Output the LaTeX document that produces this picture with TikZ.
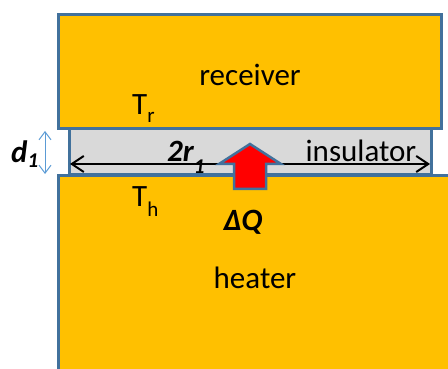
\documentclass[tikz,border=0pt]{standalone}
\usepackage{fontspec}
\setmainfont{Carlito}
\usetikzlibrary{arrows.meta}
\definecolor{gold}{HTML}{FFC000}
\definecolor{edgeblue}{HTML}{41719C}
\definecolor{insul}{HTML}{D9D9D9}
\definecolor{dblue}{HTML}{5B9BD5}
\definecolor{arrowred}{HTML}{FF0000}
\newcommand\sbs[2]{\raisebox{-#1pt}{\fontsize{21}{21}\selectfont #2}}
\begin{document}
\begin{tikzpicture}[x=1pt,y=-1pt,
  block/.style={draw=edgeblue, line width=3pt, fill=gold},
  insbox/.style={draw=edgeblue, line width=3pt, fill=insul},
  lbl/.style={inner sep=0pt, font=\fontsize{31}{37}\selectfont},
  biglbl/.style={inner sep=0pt, font=\fontsize{31}{37}\selectfont\bfseries\itshape},
  dimarrow/.style={line width=2pt, {Straight Barb[length=12pt,width=16pt]}-{Straight Barb[length=12pt,width=16pt]}},
  gaparrow/.style={draw=dblue, line width=1pt, {Straight Barb[length=8pt,width=12pt]}-{Straight Barb[length=8pt,width=12pt]}},
  heatarrow/.style={draw=edgeblue, line width=2.5pt, fill=arrowred, line join=miter}
]
\useasboundingbox (0,0) rectangle (448,369);
\clip (0,0) rectangle (448,369);
% blocks
\draw[block] (58.5,176) rectangle (480,400);
\draw[block] (58.5,14.5) rectangle (441.5,128.5);
\draw[insbox] (69,129) rectangle (431.5,175);
% coordinates for connectors
\coordinate (gaptop) at (45,131);
\coordinate (gapbot) at (45,174);
\coordinate (dimL) at (70,164);
\coordinate (dimR) at (430,164);
% arrows
\draw[gaparrow] (gaptop) -- (gapbot);
\draw[dimarrow] (dimL) -- (dimR);
\draw[heatarrow] (250,144) -- (281,164) -- (266,164) -- (266,189) -- (234,189) -- (234,164) -- (219,164) -- cycle;
% labels
\node[lbl, anchor=base] (rec) at (250,86) {receiver};
\node[lbl, anchor=base] (heat) at (255,288) {heater};
\node[lbl, anchor=base] (ins) at (361,162) {insulator};
\node[lbl, anchor=base west] (tr) at (132,115) {T\sbs{8}{r}};
\node[lbl, anchor=base west] (th) at (132,207) {T\sbs{10}{h}};
\node[biglbl, anchor=base] (dq) at (243,230) {ΔQ};
\node[biglbl, anchor=base west] (d1) at (11,163) {d\sbs{5}{1}};
\node[biglbl, anchor=base west] (r1) at (167,162) {2r\sbs{12}{1}};
\end{tikzpicture}
\end{document}
